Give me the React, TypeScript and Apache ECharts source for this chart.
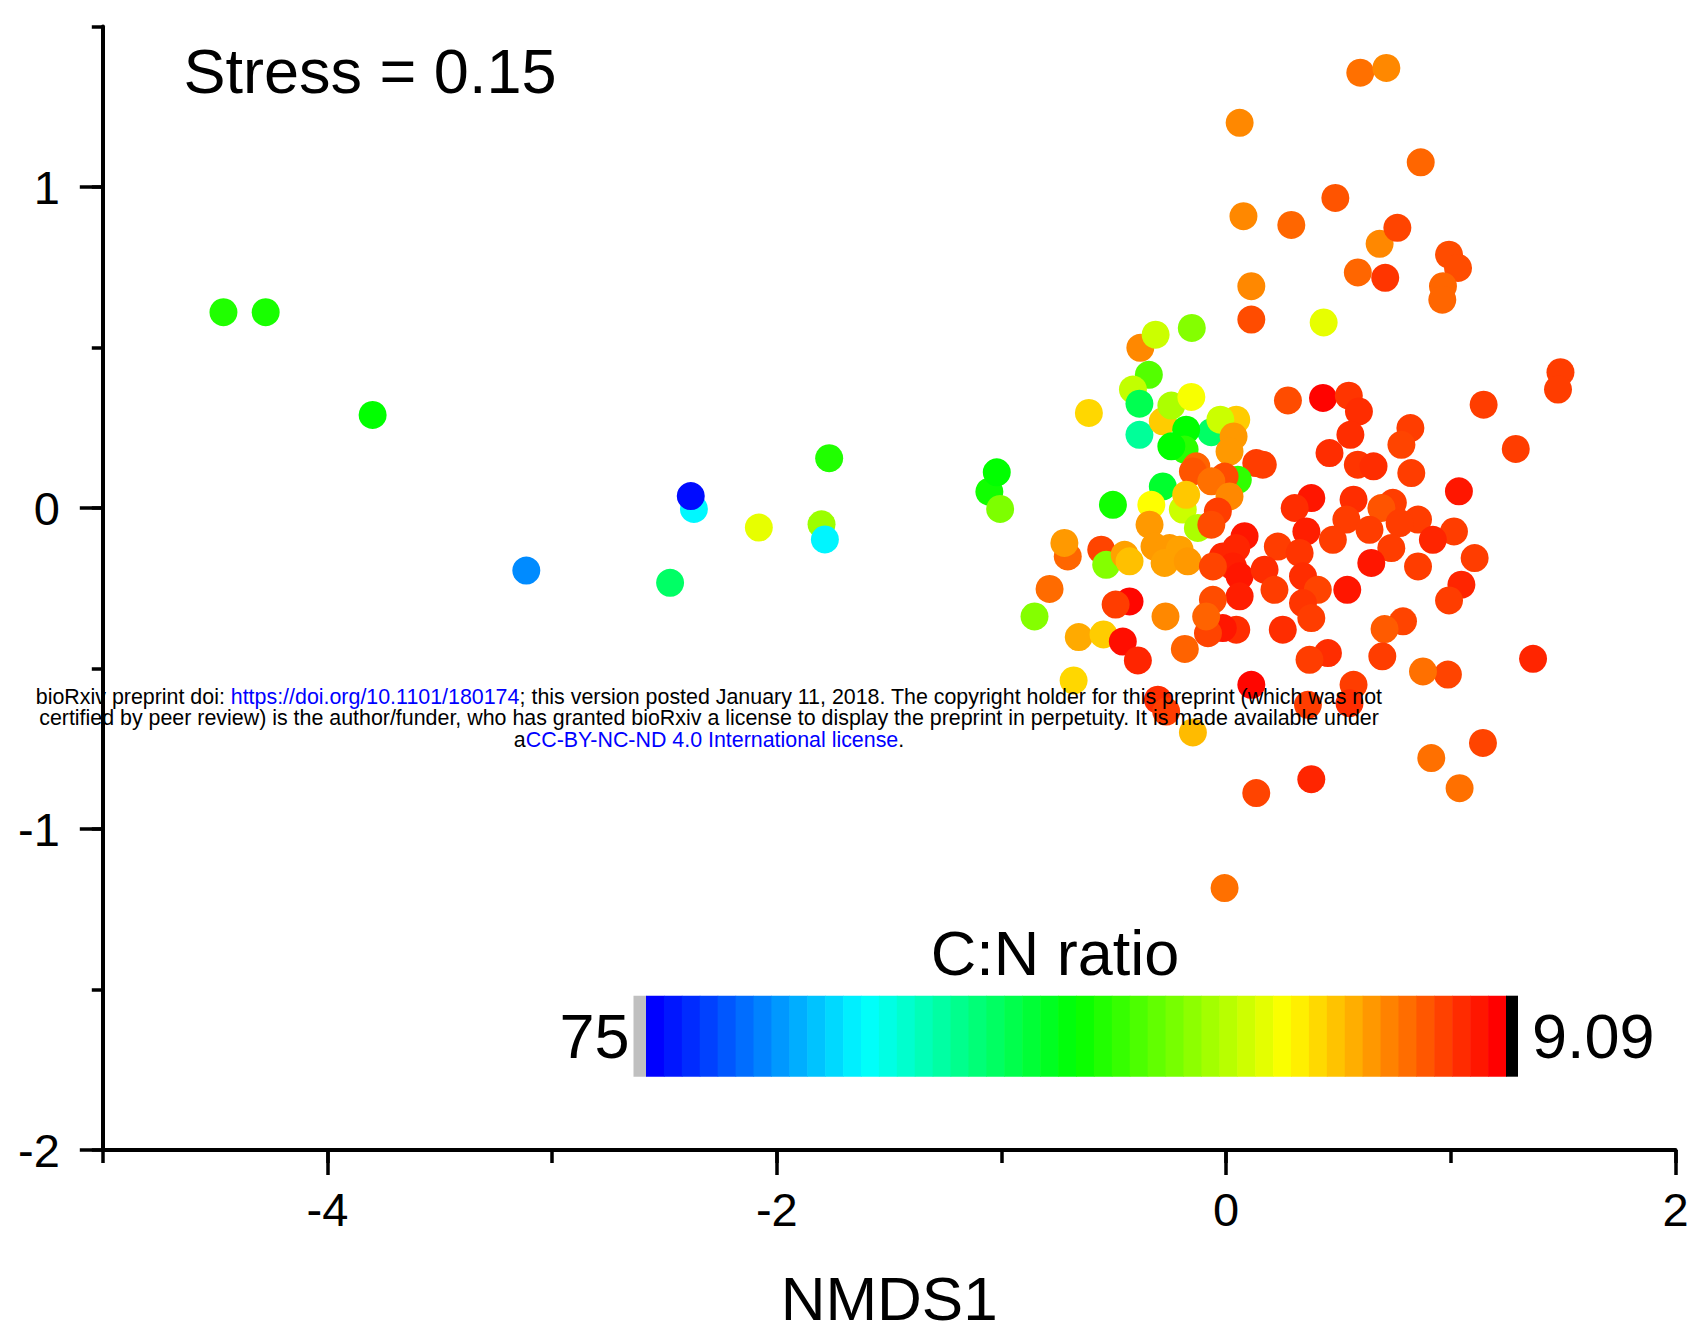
import React, { useEffect, useRef } from 'react';
import * as echarts from 'echarts';

const FONT = '"Liberation Sans", Arial, Helvetica, sans-serif';

// Axes
const xRange = [-5, 2];
const yRange = [-2, 1.5];
const xMajorTicks = [-4, -2, 0, 2];
const yMajorTicks = [-2, -1, 0, 1];
const xAxisTitle = 'NMDS1';
const stressLabel = 'Stress = 0.15';

// Colour scale (C:N ratio)
const cnTitle = 'C:N ratio';
const cnMin = 9.09;
const cnMax = 75;
const cnEndLabels = ['75', '9.09'];
const rainbowLowToHigh = ['#ff0000', '#ffff00', '#00ff00', '#00ffff', '#0000ff'];
const bandCount = 48;

// Points: [NMDS1, NMDS2, C:N ratio]
const westPoints = [
  [-4.463, 0.61, 40],
  [-4.275, 0.61, 40.5],
  [-3.799, 0.29, 42],
  [-3.115, -0.195, 66],
  [-2.475, -0.233, 48.6],
  [-2.369, -0.003, 59],
  [-2.383, 0.037, 74.3],
  [-2.08, -0.061, 27.1],
  [-1.801, -0.051, 32],
  [-1.786, -0.098, 59.2],
  [-1.767, 0.155, 40],
  [-1.054, 0.051, 41],
  [-1.021, 0.111, 42],
  [-1.006, -0.003, 34],
];

const upperPoints = [
  [0.597, 1.356, 16.3],
  [0.713, 1.371, 17.9],
  [0.06, 1.2, 17.9],
  [0.866, 1.077, 15.7],
  [0.486, 0.966, 14.5],
  [0.077, 0.909, 17.9],
  [0.29, 0.882, 15.7],
  [0.683, 0.823, 17.9],
  [0.762, 0.873, 13.5],
  [0.992, 0.789, 14],
  [1.032, 0.748, 14],
  [0.586, 0.734, 15.7],
  [0.708, 0.717, 12.5],
  [0.965, 0.691, 15.7],
  [0.962, 0.649, 15.7],
  [0.112, 0.691, 17.9],
  [0.112, 0.587, 14],
  [0.434, 0.578, 27.1],
  [1.488, 0.423, 13],
  [1.477, 0.369, 13],
  [1.146, 0.322, 13],
  [1.289, 0.184, 13],
];

const northCluster = [
  [-0.153, 0.561, 33.5],
  [-0.382, 0.499, 17.9],
  [-0.314, 0.54, 28.9],
  [-0.344, 0.415, 36.7],
  [-0.415, 0.369, 29.5],
  [-0.386, 0.325, 47.3],
  [-0.611, 0.296, 23],
  [-0.386, 0.228, 51.9],
  [-0.282, 0.27, 22.3],
  [-0.244, 0.319, 30.9],
  [-0.155, 0.346, 26],
  [0.045, 0.275, 22.3],
  [-0.066, 0.236, 48.6],
  [-0.026, 0.275, 28.9],
  [-0.178, 0.244, 42],
  [0.033, 0.223, 19],
  [0.015, 0.176, 19],
  [-0.185, 0.182, 39.3],
  [-0.244, 0.192, 42],
  [-0.133, 0.13, 15.5],
  [-0.148, 0.114, 14.5],
  [0.134, 0.14, 13],
  [0.163, 0.135, 13],
  [0.052, 0.088, 39],
  [-0.007, 0.098, 14],
  [-0.066, 0.083, 16.3],
  [-0.282, 0.067, 45],
  [-0.193, -0.005, 28.9],
  [-0.178, 0.041, 22],
  [-0.333, 0.01, 25.6],
  [-0.504, 0.01, 41],
  [0.015, 0.036, 17.9],
  [-0.037, -0.011, 13],
  [-0.126, -0.062, 30.9],
  [-0.066, -0.052, 14],
];

const eastCore = [
  [0.275, 0.335, 14],
  [0.431, 0.343, 9.3],
  [0.546, 0.35, 12.5],
  [0.591, 0.301, 12],
  [0.553, 0.228, 12],
  [0.46, 0.171, 12],
  [0.82, 0.249, 13],
  [0.78, 0.197, 13.5],
  [0.586, 0.135, 12.5],
  [0.656, 0.13, 12],
  [0.824, 0.109, 13],
  [1.036, 0.052, 10.5],
  [0.379, 0.031, 10.5],
  [0.305, 0.0, 12],
  [0.567, 0.026, 12],
  [0.742, 0.016, 13],
  [0.691, 0.0, 14.5],
  [0.535, -0.036, 13],
  [0.854, -0.036, 13],
  [0.772, -0.047, 13],
  [0.638, -0.068, 13],
  [1.014, -0.073, 13],
  [0.92, -0.099, 11.5],
  [0.735, -0.125, 13],
  [0.475, -0.099, 13],
  [0.357, -0.073, 11],
  [0.23, -0.12, 13],
  [0.327, -0.14, 12.5],
  [1.106, -0.156, 13],
  [0.646, -0.171, 10.5],
  [0.854, -0.182, 13],
];

const southCluster = [
  [-0.786, -0.252, 16],
  [-0.853, -0.338, 33.5],
  [-0.705, -0.151, 15.7],
  [-0.72, -0.109, 19],
  [-0.556, -0.13, 13.5],
  [-0.534, -0.177, 33.5],
  [-0.452, -0.146, 19.5],
  [-0.43, -0.166, 21.5],
  [-0.341, -0.052, 19],
  [-0.319, -0.12, 19],
  [-0.252, -0.125, 19],
  [-0.207, -0.13, 19.5],
  [-0.274, -0.171, 19.5],
  [-0.171, -0.166, 19],
  [-0.015, -0.151, 11.5],
  [0.082, -0.088, 10.5],
  [0.045, -0.125, 11.5],
  [0.03, -0.182, 11],
  [0.06, -0.213, 10.5],
  [-0.059, -0.182, 13.5],
  [0.171, -0.192, 12],
  [0.215, -0.255, 13],
  [0.342, -0.213, 12],
  [0.408, -0.255, 13.5],
  [0.06, -0.275, 11],
  [-0.059, -0.286, 14],
  [0.539, -0.255, 10.5],
  [0.342, -0.296, 12.5],
  [0.379, -0.343, 13],
  [1.047, -0.239, 11.5],
  [0.992, -0.288, 13],
  [0.787, -0.353, 13.5],
  [0.705, -0.377, 15],
  [0.252, -0.379, 12],
  [0.045, -0.379, 12],
  [-0.015, -0.374, 10.5],
  [-0.081, -0.39, 13.5],
  [-0.089, -0.338, 15.5],
  [-0.184, -0.439, 15.5],
  [-0.27, -0.338, 17.9],
  [-0.43, -0.291, 9.5],
  [-0.492, -0.301, 13],
  [-0.656, -0.402, 20.1],
  [-0.546, -0.394, 22.3],
  [-0.46, -0.416, 10],
  [-0.393, -0.475, 11.5],
  [-0.679, -0.537, 23],
];

const farSouth = [
  [0.453, -0.452, 12],
  [0.371, -0.473, 13],
  [0.695, -0.462, 13],
  [0.987, -0.519, 13.5],
  [0.876, -0.509, 16.3],
  [1.366, -0.47, 11.5],
  [0.112, -0.551, 9.5],
  [0.567, -0.551, 13],
  [0.549, -0.608, 12],
  [0.364, -0.613, 13],
  [-0.304, -0.597, 12],
  [-0.267, -0.634, 13],
  [-0.148, -0.699, 21.2],
  [1.143, -0.732, 13.5],
  [0.913, -0.779, 16.3],
  [1.039, -0.873, 16.3],
  [0.379, -0.845, 11.5],
  [0.134, -0.888, 13.5],
  [-0.007, -1.184, 16.3],
];

const watermarkText =
  '{k|bioRxiv preprint doi: }{l|https://doi.org/10.1101/180174}{k|; this version posted January 11, 2018. The copyright holder for this preprint (which was not}\n' +
  '{k|certified by peer review) is the author/funder, who has granted bioRxiv a license to display the preprint in perpetuity. It is made available under}\n' +
  '{k|a}{l|CC-BY-NC-ND 4.0 International license}{k|.}';

function hexToRgb(h: string) {
  return [parseInt(h.slice(1, 3), 16), parseInt(h.slice(3, 5), 16), parseInt(h.slice(5, 7), 16)];
}

function ramp(stops: string[], t: number) {
  const n = stops.length - 1;
  const seg = Math.min(n - 1, Math.floor(t * n));
  const f = t * n - seg;
  const a = hexToRgb(stops[seg]);
  const b = hexToRgb(stops[seg + 1]);
  const c = a.map((v, i) => Math.round(v + (b[i] - v) * f));
  return `rgb(${c[0]},${c[1]},${c[2]})`;
}

function buildOption() {
  const allPoints = [
    ...westPoints,
    ...upperPoints,
    ...northCluster,
    ...eastCore,
    ...southCluster,
    ...farSouth,
  ];

  // colour bar layout (legend graphics)
  const barLeft = 646;
  const barRight = 1506;
  const barTop = 995.7;
  const barH = 81;
  const highToLow = rainbowLowToHigh.slice().reverse();
  const bw = (barRight - barLeft) / bandCount;
  const bands: any[] = [];
  for (let i = 0; i < bandCount; i++) {
    bands.push({
      type: 'rect',
      z: 50,
      shape: { x: barLeft + i * bw, y: barTop, width: bw + 0.6, height: barH },
      style: { fill: ramp(highToLow, i / (bandCount - 1)) },
      silent: true,
    });
  }

  const tickStyle = { color: '#000', width: 3.5 };
  const labelStyle = { color: '#000', fontFamily: FONT, fontSize: 47 };

  return {
    animation: false,
    backgroundColor: '#ffffff',
    grid: {
      left: 102.8,
      right: 20.5,
      top: 26.5,
      bottom: 181,
      containLabel: false,
      outerBoundsMode: 'none',
    },
    xAxis: [
      {
        type: 'value',
        min: xRange[0],
        max: xRange[1],
        interval: 1,
        axisLine: { show: true, onZero: false, lineStyle: { color: '#000', width: 4 } },
        axisTick: { show: true, length: 13, lineStyle: tickStyle },
        axisLabel: { show: false },
        splitLine: { show: false },
      },
      {
        type: 'value',
        min: xRange[0],
        max: xRange[1],
        interval: 1,
        position: 'bottom',
        axisLine: { show: false, onZero: false },
        axisTick: { show: true, length: 25, customValues: xMajorTicks, lineStyle: tickStyle },
        axisLabel: {
          ...labelStyle,
          customValues: xMajorTicks,
          margin: 36,
          formatter: (v: number) => (xMajorTicks.indexOf(v) >= 0 ? String(v) : ''),
        },
        splitLine: { show: false },
        name: xAxisTitle,
        nameLocation: 'middle',
        nameGap: 122,
        nameTextStyle: { color: '#000', fontFamily: FONT, fontSize: 62, lineHeight: 52 },
      },
    ],
    yAxis: [
      {
        type: 'value',
        min: yRange[0],
        max: yRange[1],
        interval: 0.5,
        axisLine: { show: true, onZero: false, lineStyle: { color: '#000', width: 4 } },
        axisTick: { show: true, length: 11, lineStyle: tickStyle },
        axisLabel: { show: false },
        splitLine: { show: false },
      },
      {
        type: 'value',
        min: yRange[0],
        max: yRange[1],
        interval: 0.5,
        position: 'left',
        axisLine: { show: false, onZero: false },
        axisTick: { show: true, length: 23, customValues: yMajorTicks, lineStyle: tickStyle },
        axisLabel: {
          ...labelStyle,
          customValues: yMajorTicks,
          margin: 43,
          formatter: (v: number) => (yMajorTicks.indexOf(v) >= 0 ? String(v) : ''),
        },
        splitLine: { show: false },
      },
    ],
    visualMap: {
      show: false,
      type: 'continuous',
      min: cnMin,
      max: cnMax,
      dimension: 2,
      seriesIndex: 0,
      inRange: { color: rainbowLowToHigh },
    },
    series: [
      {
        type: 'scatter',
        xAxisIndex: 0,
        yAxisIndex: 0,
        symbol: 'circle',
        symbolSize: 28,
        data: allPoints,
        itemStyle: { opacity: 1 },
        emphasis: { disabled: true },
        silent: true,
      },
    ],
    graphic: {
      elements: [
        {
          type: 'text',
          z: 60,
          x: 183.5,
          y: 70.5,
          style: { text: stressLabel, fill: '#000', font: `63px ${FONT}`, align: 'left', verticalAlign: 'middle' },
          silent: true,
        },
        {
          type: 'text',
          z: 60,
          x: 1055,
          y: 953,
          style: { text: cnTitle, fill: '#000', font: `63px ${FONT}`, align: 'center', verticalAlign: 'middle' },
          silent: true,
        },
        {
          type: 'text',
          z: 60,
          x: 629.5,
          y: 1036,
          style: { text: cnEndLabels[0], fill: '#000', font: `63px ${FONT}`, align: 'right', verticalAlign: 'middle' },
          silent: true,
        },
        {
          type: 'text',
          z: 60,
          x: 1532,
          y: 1036,
          style: { text: cnEndLabels[1], fill: '#000', font: `63px ${FONT}`, align: 'left', verticalAlign: 'middle' },
          silent: true,
        },
        {
          type: 'rect',
          z: 50,
          shape: { x: 633.5, y: barTop, width: barLeft - 633.5 + 0.5, height: barH },
          style: { fill: '#c0c0c0' },
          silent: true,
        },
        ...bands,
        {
          type: 'rect',
          z: 51,
          shape: { x: barRight, y: barTop, width: 12, height: barH },
          style: { fill: '#000000' },
          silent: true,
        },
        {
          type: 'text',
          z: 100,
          x: 709,
          y: 718,
          style: {
            text: watermarkText,
            align: 'center',
            verticalAlign: 'middle',
            rich: {
              k: { fill: '#000', fontFamily: FONT, fontSize: 21.4, lineHeight: 21.5, align: 'center' },
              l: { fill: '#0000ff', fontFamily: FONT, fontSize: 21.4, lineHeight: 21.5, align: 'center' },
            },
          },
          silent: true,
        },
      ],
    },
  };
}

export default function App() {
  const ref = useRef<HTMLDivElement>(null);
  useEffect(() => {
    if (!ref.current) return;
    const chart = echarts.init(ref.current, null, { renderer: 'svg', width: 1696, height: 1331 });
    chart.setOption(buildOption() as any);
    return () => {
      chart.dispose();
    };
  }, []);
  return (
    <div
      ref={ref}
      style={{ position: 'absolute', left: 0, top: 0, width: 1696, height: 1331, background: '#ffffff' }}
    />
  );
}
